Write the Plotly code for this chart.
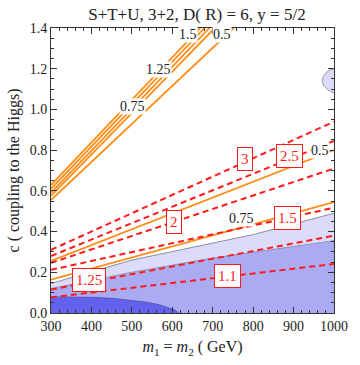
import plotly.graph_objects as go

# --- Data ---
M_EDGES = [300, 1000]

# red dashed contours (value -> c at m=300, c at m=1000)
RED_LEVELS = ["3", "2.5", "2", "1.5", "1.25", "1.1"]
RED_LEFT = [0.31, 0.28, 0.246, 0.212, 0.115, 0.077]
RED_RIGHT = [0.94, 0.845, 0.71, 0.517, 0.38, 0.241]

# shallow orange contours
ORANGE_LOW_LEVELS = ["0.5", "0.75"]
ORANGE_LOW_LEFT = [0.256, 0.164]
ORANGE_LOW_RIGHT = [0.80, 0.545]

# steep orange contours: c at m=300, then m where they leave the top (c=1.4)
ORANGE_STEEP_LEVELS = ["1.5", "1.25", "1", "0.75", "0.5"]
ORANGE_STEEP_LEFT = [0.628, 0.61, 0.59, 0.575, 0.555]
ORANGE_STEEP_TOP_M = [669, 680, 692, 705, 752]

# shaded regions
LIGHT_M = [300, 500, 800, 1000]
LIGHT_C = [0.145, 0.26, 0.385, 0.49]
MEDIUM_M = [300, 500, 700, 1000]
MEDIUM_C = [0.12, 0.2, 0.27, 0.355]
DARK_M = [300, 400, 457, 500, 537, 570, 592, 607, 616]
DARK_C = [0.079, 0.077, 0.071, 0.063, 0.053, 0.039, 0.026, 0.014, 0.0]
BLOB_M = [1000, 990, 980, 973, 971, 975, 985, 995, 1000]
BLOB_C = [1.20, 1.195, 1.18, 1.16, 1.14, 1.115, 1.095, 1.083, 1.08]

# label positions
RED_LABEL_M = [779, 891, 604, 884, 395, 737]
RED_LABEL_C = [0.758, 0.771, 0.449, 0.468, 0.16, 0.183]
BLACK_LABELS = ["0.75", "1.25", "1.5", "0.5", "0.5", "0.75"]
BLACK_LABEL_M = [501, 566, 640, 722, 966, 770]
BLACK_LABEL_C = [1.014, 1.197, 1.366, 1.366, 0.797, 0.463]

FONT = "Liberation Serif"
ORANGE = "#ff8c14"
RED = "#ff1a1a"

fig = go.Figure()

# regions, lightest first so darker ones paint over
fig.add_trace(go.Scatter(x=LIGHT_M, y=LIGHT_C, mode="lines", fill="tozeroy",
                         fillcolor="#dcdcfa", line=dict(color="#8c8ca0", width=1)))
fig.add_trace(go.Scatter(x=MEDIUM_M, y=MEDIUM_C, mode="lines", fill="tozeroy",
                         fillcolor="#ababf4", line=dict(color="#9090b8", width=1)))
fig.add_trace(go.Scatter(x=DARK_M, y=DARK_C, mode="lines", fill="tozeroy",
                         fillcolor="#6262ee", line=dict(color="#5a5ab0", width=1)))
fig.add_trace(go.Scatter(x=BLOB_M, y=BLOB_C, mode="lines", fill="toself",
                         fillcolor="#dcdcfa", line=dict(color="#9a9ab0", width=1)))

for left, right in zip(ORANGE_STEEP_LEFT, ORANGE_STEEP_TOP_M):
    fig.add_trace(go.Scatter(x=[300, right], y=[left, 1.4], mode="lines",
                             line=dict(color=ORANGE, width=1.8)))

for left, right in zip(ORANGE_LOW_LEFT, ORANGE_LOW_RIGHT):
    fig.add_trace(go.Scatter(x=M_EDGES, y=[left, right], mode="lines",
                             line=dict(color=ORANGE, width=1.8)))

for left, right in zip(RED_LEFT, RED_RIGHT):
    fig.add_trace(go.Scatter(x=M_EDGES, y=[left, right], mode="lines",
                             line=dict(color=RED, width=2, dash="6px,4px")))

for txt, m, c in zip(RED_LEVELS, RED_LABEL_M, RED_LABEL_C):
    fig.add_annotation(x=m, y=c, text=txt, showarrow=False,
                       font=dict(family=FONT, size=15, color=RED),
                       bgcolor="white", bordercolor=RED, borderwidth=1, borderpad=3)

for txt, m, c in zip(BLACK_LABELS, BLACK_LABEL_M, BLACK_LABEL_C):
    fig.add_annotation(x=m, y=c, text=txt, showarrow=False,
                       font=dict(family=FONT, size=14, color="#222"),
                       bgcolor="white", borderpad=0)

axis_common = dict(
    showgrid=False, zeroline=False, showline=True, linecolor="#333", linewidth=1,
    mirror="allticks", ticks="inside", ticklen=6, tickcolor="#333",
    tickfont=dict(family=FONT, size=14, color="#222"),
)

fig.update_xaxes(range=[300, 1000], dtick=100,
                 minor=dict(dtick=20, ticks="inside", ticklen=3, tickcolor="#333"),
                 title=dict(text="<i>m</i><sub>1</sub> = <i>m</i><sub>2</sub> ( GeV)",
                            font=dict(family=FONT, size=16, color="#222"), standoff=8),
                 **axis_common)
fig.update_yaxes(range=[0, 1.4], dtick=0.2, tickformat=".1f",
                 minor=dict(dtick=0.05, ticks="inside", ticklen=3, tickcolor="#333"),
                 title=dict(text="c ( coupling to the Higgs)",
                            font=dict(family=FONT, size=16, color="#222"), standoff=6),
                 **axis_common)

fig.update_layout(
    width=360, height=365,
    margin=dict(l=51, r=17, t=28, b=47),
    paper_bgcolor="white", plot_bgcolor="white",
    showlegend=False,
    title=dict(text="S+T+U, 3+2, D( R) = 6, y = 5/2", x=0.547, xanchor="center",
               y=0.962, yanchor="middle",
               font=dict(family=FONT, size=17, color="#222")),
)

# the page's default body margin pushes the figure off the window edge
fig.write_html("out.html", config={"displayModeBar": False},
               post_script="document.body.style.margin='0';")
